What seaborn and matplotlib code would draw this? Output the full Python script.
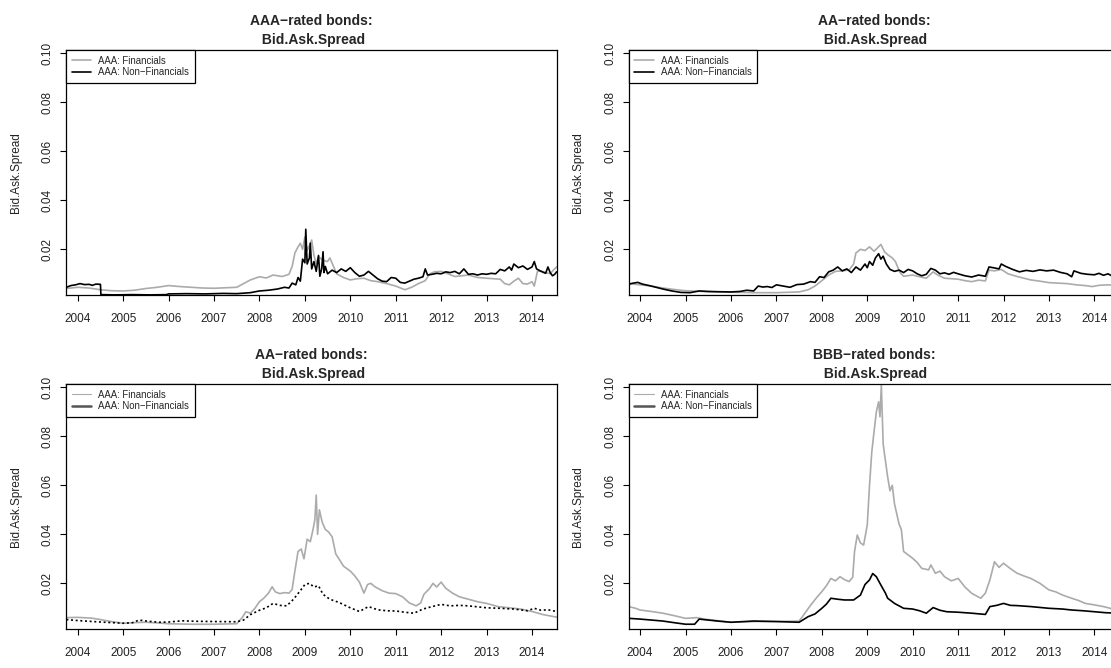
import pandas as pd
import seaborn as sns
import matplotlib.pyplot as plt
from matplotlib.lines import Line2D

# (year, bid-ask spread)
aaa_fin = [(2003.75, 0.0040), (2004.0, 0.0045), (2004.25, 0.0042), (2004.5, 0.0035), (2004.75, 0.0031),
           (2005.0, 0.0030), (2005.25, 0.0033), (2005.5, 0.0040), (2005.75, 0.0045), (2006.0, 0.0052),
           (2006.25, 0.0048), (2006.5, 0.0045), (2006.75, 0.0042), (2007.0, 0.0041), (2007.25, 0.0043),
           (2007.5, 0.0045), (2007.65, 0.0060), (2007.8, 0.0075), (2008.0, 0.0088), (2008.15, 0.0083),
           (2008.3, 0.0095), (2008.5, 0.0089), (2008.65, 0.0098), (2008.72, 0.0130), (2008.78, 0.0185),
           (2008.85, 0.0210), (2008.9, 0.0225), (2008.95, 0.0200), (2009.0, 0.0250), (2009.05, 0.0195),
           (2009.1, 0.0215), (2009.15, 0.0238), (2009.2, 0.0175), (2009.25, 0.0142), (2009.3, 0.0170),
           (2009.4, 0.0155), (2009.5, 0.0150), (2009.55, 0.0165), (2009.62, 0.0135), (2009.7, 0.0100),
           (2009.85, 0.0085), (2010.0, 0.0075), (2010.15, 0.0080), (2010.3, 0.0082), (2010.45, 0.0072),
           (2010.6, 0.0068), (2010.8, 0.0060), (2011.0, 0.0050), (2011.2, 0.0035), (2011.35, 0.0045),
           (2011.5, 0.0060), (2011.65, 0.0072), (2011.75, 0.0100), (2011.85, 0.0108), (2012.0, 0.0110),
           (2012.15, 0.0100), (2012.3, 0.0089), (2012.45, 0.0092), (2012.6, 0.0095), (2012.8, 0.0085),
           (2013.0, 0.0082), (2013.15, 0.0080), (2013.3, 0.0078), (2013.4, 0.0060), (2013.5, 0.0055),
           (2013.6, 0.0070), (2013.7, 0.0082), (2013.8, 0.0060), (2013.9, 0.0058), (2014.0, 0.0068),
           (2014.05, 0.0050), (2014.12, 0.0110), (2014.2, 0.0112), (2014.3, 0.0105), (2014.4, 0.0100),
           (2014.47, 0.0115), (2014.54, 0.0128)]
aaa_non = [(2003.75, 0.0045), (2003.85, 0.0052), (2003.95, 0.0055), (2004.05, 0.0060), (2004.15, 0.0056),
           (2004.25, 0.0057), (2004.32, 0.0053), (2004.4, 0.0058), (2004.5, 0.0057), (2004.51, 0.0015),
           (2004.8, 0.0014), (2005.2, 0.0015), (2005.6, 0.0014), (2005.95, 0.0015), (2006.0, 0.0018),
           (2006.4, 0.0019), (2006.8, 0.0018), (2007.2, 0.0020), (2007.5, 0.0019), (2007.8, 0.0023),
           (2008.0, 0.0030), (2008.2, 0.0033), (2008.4, 0.0038), (2008.55, 0.0045), (2008.65, 0.0042),
           (2008.72, 0.0062), (2008.8, 0.0055), (2008.85, 0.0085), (2008.9, 0.0070), (2008.95, 0.0160),
           (2009.0, 0.0145), (2009.02, 0.0282), (2009.05, 0.0140), (2009.1, 0.0165), (2009.12, 0.0225),
           (2009.15, 0.0120), (2009.2, 0.0150), (2009.25, 0.0110), (2009.3, 0.0175), (2009.33, 0.0090),
           (2009.37, 0.0120), (2009.4, 0.0190), (2009.42, 0.0105), (2009.45, 0.0130), (2009.5, 0.0100),
           (2009.6, 0.0115), (2009.7, 0.0105), (2009.8, 0.0120), (2009.9, 0.0110), (2010.0, 0.0125),
           (2010.1, 0.0105), (2010.2, 0.0090), (2010.3, 0.0095), (2010.4, 0.0110), (2010.5, 0.0095),
           (2010.6, 0.0080), (2010.7, 0.0070), (2010.8, 0.0068), (2010.9, 0.0085), (2011.0, 0.0082),
           (2011.1, 0.0065), (2011.2, 0.0062), (2011.3, 0.0070), (2011.4, 0.0078), (2011.5, 0.0082),
           (2011.6, 0.0088), (2011.65, 0.0120), (2011.7, 0.0095), (2011.8, 0.0098), (2011.9, 0.0102),
           (2012.0, 0.0100), (2012.1, 0.0108), (2012.2, 0.0105), (2012.3, 0.0110), (2012.4, 0.0100),
           (2012.5, 0.0120), (2012.6, 0.0098), (2012.7, 0.0100), (2012.8, 0.0095), (2012.9, 0.0100),
           (2013.0, 0.0098), (2013.1, 0.0102), (2013.2, 0.0100), (2013.3, 0.0118), (2013.4, 0.0112),
           (2013.5, 0.0128), (2013.55, 0.0115), (2013.6, 0.0140), (2013.7, 0.0125), (2013.8, 0.0132),
           (2013.9, 0.0118), (2014.0, 0.0128), (2014.05, 0.0150), (2014.1, 0.0120), (2014.2, 0.0110),
           (2014.3, 0.0102), (2014.35, 0.0128), (2014.4, 0.0105), (2014.45, 0.0092), (2014.5, 0.0098),
           (2014.54, 0.0108)]

aa_fin = [(2003.75, 0.0060), (2004.0, 0.0055), (2004.25, 0.0050), (2004.5, 0.0042), (2004.75, 0.0036),
          (2005.0, 0.0031), (2005.5, 0.0027), (2006.0, 0.0025), (2006.5, 0.0023), (2007.0, 0.0023),
          (2007.5, 0.0026), (2007.7, 0.0035), (2007.85, 0.0050), (2008.0, 0.0072), (2008.15, 0.0095),
          (2008.3, 0.0110), (2008.45, 0.0112), (2008.6, 0.0116), (2008.7, 0.0140), (2008.75, 0.0185),
          (2008.85, 0.0200), (2008.95, 0.0195), (2009.05, 0.0210), (2009.15, 0.0192), (2009.22, 0.0205),
          (2009.3, 0.0220), (2009.38, 0.0190), (2009.45, 0.0178), (2009.55, 0.0165), (2009.62, 0.0150),
          (2009.72, 0.0105), (2009.8, 0.0090), (2010.0, 0.0095), (2010.15, 0.0088), (2010.3, 0.0082),
          (2010.45, 0.0108), (2010.55, 0.0095), (2010.7, 0.0082), (2010.85, 0.0080), (2011.0, 0.0078),
          (2011.15, 0.0072), (2011.3, 0.0068), (2011.45, 0.0074), (2011.6, 0.0071), (2011.68, 0.0115),
          (2011.8, 0.0112), (2011.95, 0.0118), (2012.1, 0.0100), (2012.3, 0.0089), (2012.45, 0.0082),
          (2012.6, 0.0075), (2012.8, 0.0070), (2013.0, 0.0064), (2013.2, 0.0062), (2013.4, 0.0060),
          (2013.6, 0.0055), (2013.8, 0.0052), (2013.95, 0.0048), (2014.1, 0.0053), (2014.3, 0.0055),
          (2014.54, 0.0052)]
aa_non = [(2003.75, 0.0058), (2003.85, 0.0062), (2003.95, 0.0065), (2004.05, 0.0058), (2004.2, 0.0052),
          (2004.35, 0.0045), (2004.5, 0.0038), (2004.7, 0.0030), (2004.9, 0.0024), (2005.1, 0.0023),
          (2005.3, 0.0030), (2005.5, 0.0028), (2005.7, 0.0027), (2006.0, 0.0026), (2006.2, 0.0028),
          (2006.35, 0.0033), (2006.5, 0.0030), (2006.6, 0.0050), (2006.7, 0.0046), (2006.8, 0.0048),
          (2006.9, 0.0044), (2007.0, 0.0055), (2007.15, 0.0050), (2007.3, 0.0045), (2007.45, 0.0056),
          (2007.6, 0.0058), (2007.75, 0.0068), (2007.85, 0.0065), (2007.95, 0.0088), (2008.05, 0.0085),
          (2008.15, 0.0108), (2008.25, 0.0115), (2008.35, 0.0128), (2008.45, 0.0112), (2008.55, 0.0120),
          (2008.65, 0.0105), (2008.75, 0.0128), (2008.85, 0.0115), (2008.95, 0.0140), (2009.0, 0.0125),
          (2009.05, 0.0150), (2009.12, 0.0135), (2009.18, 0.0165), (2009.25, 0.0182), (2009.3, 0.0160),
          (2009.35, 0.0172), (2009.42, 0.0140), (2009.5, 0.0118), (2009.6, 0.0110), (2009.7, 0.0115),
          (2009.8, 0.0105), (2009.9, 0.0118), (2010.0, 0.0112), (2010.1, 0.0100), (2010.2, 0.0092),
          (2010.3, 0.0098), (2010.4, 0.0122), (2010.5, 0.0115), (2010.6, 0.0100), (2010.7, 0.0104),
          (2010.8, 0.0098), (2010.9, 0.0106), (2011.0, 0.0100), (2011.15, 0.0092), (2011.3, 0.0087),
          (2011.45, 0.0095), (2011.6, 0.0090), (2011.68, 0.0128), (2011.8, 0.0124), (2011.9, 0.0120),
          (2011.95, 0.0140), (2012.05, 0.0130), (2012.2, 0.0118), (2012.35, 0.0108), (2012.5, 0.0114),
          (2012.65, 0.0110), (2012.8, 0.0116), (2012.95, 0.0112), (2013.1, 0.0115), (2013.25, 0.0106),
          (2013.4, 0.0100), (2013.5, 0.0088), (2013.55, 0.0112), (2013.7, 0.0102), (2013.85, 0.0098),
          (2014.0, 0.0096), (2014.1, 0.0102), (2014.2, 0.0094), (2014.3, 0.0100), (2014.4, 0.0090),
          (2014.54, 0.0096)]

aa2_fin = [(2003.75, 0.0060), (2004.0, 0.0061), (2004.3, 0.0058), (2004.5, 0.0052), (2004.7, 0.0045),
           (2005.0, 0.0037), (2005.3, 0.0040), (2005.5, 0.0041), (2005.8, 0.0038), (2006.0, 0.0035),
           (2006.5, 0.0033), (2007.0, 0.0033), (2007.5, 0.0035), (2007.62, 0.0060), (2007.7, 0.0084),
           (2007.8, 0.0078), (2007.9, 0.0098), (2008.0, 0.0125), (2008.1, 0.0140), (2008.2, 0.0160),
           (2008.28, 0.0186), (2008.35, 0.0165), (2008.45, 0.0158), (2008.55, 0.0162), (2008.65, 0.0160),
           (2008.72, 0.0175), (2008.78, 0.0250), (2008.85, 0.0330), (2008.92, 0.0340), (2008.98, 0.0300),
           (2009.05, 0.0380), (2009.12, 0.0370), (2009.18, 0.0420), (2009.22, 0.0460), (2009.25, 0.0560),
           (2009.28, 0.0400), (2009.32, 0.0500), (2009.38, 0.0450), (2009.45, 0.0420), (2009.52, 0.0410),
           (2009.6, 0.0390), (2009.68, 0.0320), (2009.75, 0.0300), (2009.85, 0.0270), (2010.0, 0.0250),
           (2010.1, 0.0230), (2010.2, 0.0205), (2010.3, 0.0160), (2010.38, 0.0195), (2010.45, 0.0200),
           (2010.55, 0.0185), (2010.7, 0.0170), (2010.85, 0.0160), (2011.0, 0.0158), (2011.15, 0.0145),
           (2011.3, 0.0120), (2011.45, 0.0108), (2011.55, 0.0120), (2011.62, 0.0155), (2011.75, 0.0180),
           (2011.82, 0.0200), (2011.9, 0.0185), (2012.0, 0.0205), (2012.1, 0.0180), (2012.25, 0.0160),
           (2012.4, 0.0145), (2012.6, 0.0135), (2012.8, 0.0125), (2013.0, 0.0118), (2013.25, 0.0105),
           (2013.5, 0.0100), (2013.75, 0.0095), (2014.0, 0.0085), (2014.25, 0.0072), (2014.54, 0.0062)]
aa2_non = [(2003.75, 0.0052), (2004.0, 0.0048), (2004.5, 0.0042), (2005.0, 0.0037), (2005.2, 0.0039),
           (2005.35, 0.0050), (2005.55, 0.0045), (2005.8, 0.0041), (2006.0, 0.0042), (2006.3, 0.0047),
           (2006.6, 0.0045), (2007.0, 0.0044), (2007.5, 0.0043), (2007.65, 0.0050), (2007.8, 0.0072),
           (2008.0, 0.0090), (2008.15, 0.0100), (2008.3, 0.0118), (2008.45, 0.0110), (2008.6, 0.0108),
           (2008.75, 0.0135), (2008.9, 0.0170), (2009.0, 0.0195), (2009.1, 0.0200), (2009.2, 0.0185),
           (2009.3, 0.0190), (2009.4, 0.0155), (2009.55, 0.0135), (2009.75, 0.0122), (2010.0, 0.0100),
           (2010.2, 0.0085), (2010.4, 0.0105), (2010.6, 0.0092), (2010.8, 0.0088), (2011.0, 0.0087),
           (2011.2, 0.0082), (2011.4, 0.0078), (2011.6, 0.0095), (2011.8, 0.0105), (2012.0, 0.0114),
           (2012.2, 0.0108), (2012.4, 0.0110), (2012.6, 0.0108), (2012.8, 0.0104), (2013.0, 0.0100),
           (2013.3, 0.0098), (2013.6, 0.0095), (2013.9, 0.0088), (2014.05, 0.0098), (2014.2, 0.0090),
           (2014.35, 0.0092), (2014.54, 0.0085)]

bbb_fin = [(2003.75, 0.0105), (2003.9, 0.0098), (2004.0, 0.0091), (2004.25, 0.0085), (2004.5, 0.0078),
           (2004.75, 0.0068), (2005.0, 0.0057), (2005.25, 0.0060), (2005.4, 0.0054), (2005.6, 0.0050),
           (2006.0, 0.0041), (2006.5, 0.0044), (2007.0, 0.0044), (2007.5, 0.0046), (2007.6, 0.0071),
           (2007.75, 0.0110), (2007.9, 0.0145), (2008.0, 0.0166), (2008.1, 0.0190), (2008.2, 0.0220),
           (2008.3, 0.0210), (2008.4, 0.0227), (2008.5, 0.0215), (2008.6, 0.0207), (2008.68, 0.0225),
           (2008.72, 0.0330), (2008.78, 0.0397), (2008.85, 0.0365), (2008.92, 0.0356), (2009.0, 0.0438),
           (2009.05, 0.0601), (2009.1, 0.0737), (2009.15, 0.0820), (2009.2, 0.0900), (2009.25, 0.0941),
           (2009.28, 0.0880), (2009.31, 0.1010), (2009.35, 0.0769), (2009.4, 0.0700), (2009.45, 0.0633),
           (2009.5, 0.0578), (2009.55, 0.0600), (2009.6, 0.0524), (2009.7, 0.0442), (2009.75, 0.0420),
           (2009.8, 0.0330), (2009.9, 0.0316), (2010.0, 0.0302), (2010.1, 0.0285), (2010.2, 0.0261),
           (2010.35, 0.0255), (2010.4, 0.0275), (2010.5, 0.0241), (2010.6, 0.0250), (2010.7, 0.0227),
           (2010.85, 0.0210), (2011.0, 0.0220), (2011.15, 0.0185), (2011.3, 0.0159), (2011.5, 0.0139),
           (2011.6, 0.0160), (2011.7, 0.0214), (2011.8, 0.0288), (2011.9, 0.0265), (2012.0, 0.0282),
           (2012.15, 0.0260), (2012.3, 0.0241), (2012.45, 0.0230), (2012.6, 0.0220), (2012.8, 0.0200),
           (2013.0, 0.0173), (2013.15, 0.0165), (2013.3, 0.0152), (2013.5, 0.0139), (2013.65, 0.0130),
           (2013.8, 0.0118), (2014.0, 0.0112), (2014.2, 0.0105), (2014.35, 0.0098), (2014.54, 0.0085)]
bbb_non = [(2003.75, 0.0057), (2004.0, 0.0054), (2004.5, 0.0046), (2004.8, 0.0038), (2005.0, 0.0033),
           (2005.2, 0.0033), (2005.3, 0.0054), (2005.5, 0.0050), (2005.7, 0.0046), (2006.0, 0.0041),
           (2006.5, 0.0046), (2007.0, 0.0044), (2007.5, 0.0041), (2007.7, 0.0064), (2007.85, 0.0075),
           (2008.0, 0.0098), (2008.1, 0.0115), (2008.2, 0.0139), (2008.35, 0.0135), (2008.5, 0.0132),
           (2008.7, 0.0132), (2008.85, 0.0152), (2008.95, 0.0195), (2009.05, 0.0214), (2009.12, 0.0240),
           (2009.2, 0.0227), (2009.3, 0.0193), (2009.4, 0.0160), (2009.45, 0.0139), (2009.6, 0.0118),
           (2009.8, 0.0098), (2010.0, 0.0095), (2010.15, 0.0088), (2010.3, 0.0078), (2010.45, 0.0101),
           (2010.6, 0.0090), (2010.75, 0.0084), (2011.0, 0.0082), (2011.3, 0.0078), (2011.6, 0.0073),
           (2011.7, 0.0105), (2011.85, 0.0110), (2012.0, 0.0118), (2012.15, 0.0110), (2012.3, 0.0109),
           (2012.6, 0.0105), (2013.0, 0.0098), (2013.3, 0.0095), (2013.5, 0.0091), (2013.75, 0.0088),
           (2014.0, 0.0084), (2014.25, 0.0080), (2014.54, 0.0078)]

titles = ["AAA\u2212rated bonds:\n Bid.Ask.Spread", "AA\u2212rated bonds:\n Bid.Ask.Spread",
          "AA\u2212rated bonds:\n Bid.Ask.Spread", "BBB\u2212rated bonds:\n Bid.Ask.Spread"]
legend_labels = ["AAA: Financials", "AAA: Non\u2212Financials"]
years = list(range(2004, 2015))
y_ticks = [0.02, 0.04, 0.06, 0.08, 0.10]

GREY = "#ababab"

sns.set_theme(style="white")
plt.rcParams["font.family"] = ["Liberation Sans", "DejaVu Sans"]

fig = plt.figure(figsize=(11.11, 6.68), dpi=100)

# axes boxes in figure fractions (right column runs off the canvas like the original)
boxes = [
    [0.0597, 0.5579, 0.4414, 0.3672],
    [0.5659, 0.5579, 0.4414, 0.3672],
    [0.0597, 0.0579, 0.4414, 0.3672],
    [0.5659, 0.0579, 0.4414, 0.3672],
]
panels = [(aaa_fin, aaa_non), (aa_fin, aa_non), (aa2_fin, aa2_non), (bbb_fin, bbb_non)]

for i, (box, (fin, non)) in enumerate(zip(boxes, panels)):
    ax = fig.add_axes(box)
    df_fin = pd.DataFrame(fin, columns=["year", "spread"])
    df_non = pd.DataFrame(non, columns=["year", "spread"])

    sns.lineplot(data=df_fin, x="year", y="spread", color=GREY, lw=1.2, estimator=None, ax=ax)
    non_style = (0, (1.2, 1.6)) if i == 2 else "-"
    sns.lineplot(data=df_non, x="year", y="spread", color="black", lw=1.2,
                 linestyle=non_style, estimator=None, ax=ax)

    ax.set_xlim(2003.749, 2014.544)
    ax.set_ylim(0.00122, 0.10135)
    ax.set_xticks(years)
    ax.set_xticklabels([str(y) for y in years], fontsize=8.5, color="#222222")
    ax.set_yticks(y_ticks)
    ax.set_yticklabels(["%.2f" % v for v in y_ticks], fontsize=8.5, color="#222222",
                       rotation=90, va="center")
    ax.tick_params(axis="x", direction="out", length=4, width=0.8, pad=9, color="black", bottom=True)
    ax.tick_params(axis="y", direction="out", length=4, width=0.8, pad=5, color="black", left=True)

    ax.set_xlabel("")
    ax.set_ylabel("Bid.Ask.Spread", fontsize=8.5, color="#222222")
    ax.yaxis.set_label_coords(-0.091, 0.5)
    ax.set_title(titles[i], fontsize=10, fontweight="bold", pad=4.5, linespacing=1.45)

    for s in ax.spines.values():
        s.set_color("black")
        s.set_linewidth(0.9)

    if i < 2:
        handles = [Line2D([], [], color=GREY, lw=1.2), Line2D([], [], color="black", lw=1.2)]
    else:
        handles = [Line2D([], [], color=GREY, lw=0.8), Line2D([], [], color="#555555", lw=1.8)]
    leg = ax.legend(handles, legend_labels, loc="upper left", borderaxespad=0, fontsize=6.9,
                    frameon=True, fancybox=False, edgecolor="black", framealpha=1,
                    handlelength=2.0, handletextpad=0.75, borderpad=0.6, labelspacing=0.15)
    leg.get_frame().set_linewidth(0.9)

fig.savefig("out.png", dpi=100)
